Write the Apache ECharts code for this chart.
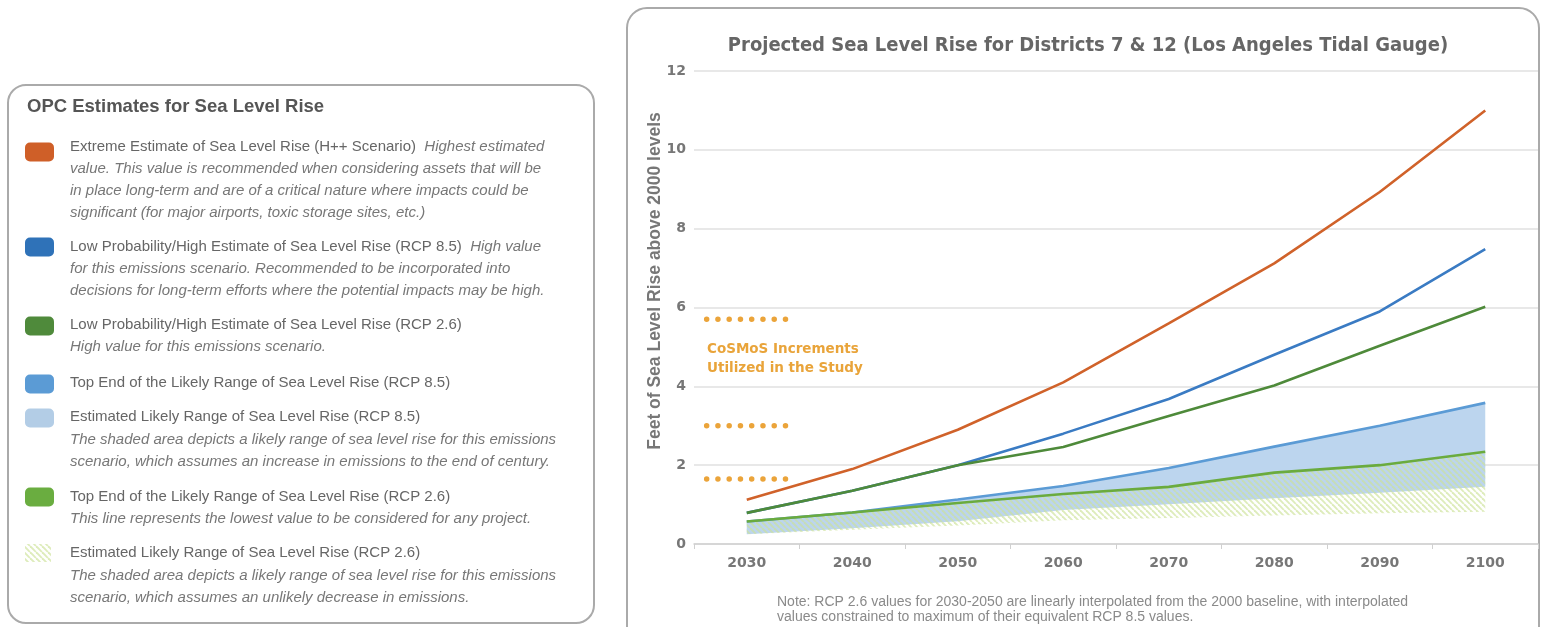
<!DOCTYPE html>
<html>
<head>
<meta charset="utf-8">
<script src="https://cdn.jsdelivr.net/npm/echarts@6/dist/echarts.min.js"></script>
<style>
html,body{margin:0;padding:0;background:#fff;}
#c{width:1544px;height:627px;}
</style>
</head>
<body>
<div id="c"></div>
<script>
// ---------------- DATA ----------------
var years = ['2030','2040','2050','2060','2070','2080','2090','2100'];
var yTicks = [0, 2, 4, 6, 8, 10, 12];
var hppExtreme   = [1.12, 1.90, 2.90, 4.10, 5.60, 7.12, 8.93, 11.0];  // H++
var rcp85High    = [0.79, 1.35, 2.00, 2.80, 3.68, 4.80, 5.90, 7.48];  // RCP 8.5 low prob / high
var rcp26High    = [0.79, 1.35, 2.00, 2.46, 3.25, 4.02, 5.03, 6.02];  // RCP 2.6 low prob / high
var rcp85LikelyTop = [0.57, 0.80, 1.13, 1.47, 1.93, 2.47, 3.00, 3.58];
var rcp85LikelyLow = [0.25, 0.40, 0.58, 0.86, 1.01, 1.16, 1.30, 1.45];
var rcp26LikelyTop = [0.57, 0.80, 1.04, 1.27, 1.45, 1.81, 2.00, 2.34];
var rcp26LikelyLow = [0.25, 0.36, 0.47, 0.60, 0.66, 0.72, 0.78, 0.82];
var cosmosLevels = [5.7, 3.0, 1.65];
var cosmosSpan = [2026.2, 2033.8];

var legendItems = [
  {swatch:'#cf5f28', lines:[['Extreme Estimate of Sea Level Rise (H++ Scenario)  ','Highest estimated'],['','value. This value is recommended when considering assets that will be'],['','in place long-term and are of a critical nature where impacts could be'],['','significant (for major airports, toxic storage sites, etc.)']]},
  {swatch:'#2f72b8', lines:[['Low Probability/High Estimate of Sea Level Rise (RCP 8.5)  ','High value'],['','for this emissions scenario. Recommended to be incorporated into'],['','decisions for long-term efforts where the potential impacts may be high.']]},
  {swatch:'#4f8a3b', lines:[['Low Probability/High Estimate of Sea Level Rise (RCP 2.6)',''],['','High value for this emissions scenario.']]},
  {swatch:'#5b9bd5', lines:[['Top End of the Likely Range of Sea Level Rise (RCP 8.5)','']]},
  {swatch:'#b3cde6', lines:[['Estimated Likely Range of Sea Level Rise (RCP 8.5)',''],['','The shaded area depicts a likely range of sea level rise for this emissions'],['','scenario, which assumes an increase in emissions to the end of century.']]},
  {swatch:'#6aad40', lines:[['Top End of the Likely Range of Sea Level Rise (RCP 2.6)',''],['','This line represents the lowest value to be considered for any project.']]},
  {swatch:'hatch', lines:[['Estimated Likely Range of Sea Level Rise (RCP 2.6)',''],['','The shaded area depicts a likely range of sea level rise for this emissions'],['','scenario, which assumes an unlikely decrease in emissions.']]}
];
var legendLineY = [[147,169,191,213],[247,269,291],[325,347],[383],[417,440,462],[497,519],[553,576,598]];
var legendSwatchY = [152,247,326,384,418,497,553];

// ---------------- PATTERN ----------------
function makeHatch(){
  var cv = document.createElement('canvas');
  cv.width = 6; cv.height = 6;
  var ctx = cv.getContext('2d');
  ctx.strokeStyle = 'rgba(205,226,150,0.65)';
  ctx.lineWidth = 1.9;
  [-6,0,6].forEach(function(o){
    ctx.beginPath(); ctx.moveTo(o,0); ctx.lineTo(o+6,6); ctx.stroke();
  });
  return cv;
}
var hatchCanvas = makeHatch();
var hatch = {image: hatchCanvas, repeat: 'repeat'};

function diff(a,b){ return a.map(function(v,i){ return +(v-b[i]).toFixed(3); }); }

var chart = echarts.init(document.getElementById('c'), null, {renderer:'canvas'});

var graphics = [];
// panels
graphics.push({type:'rect', shape:{x:8,y:85,width:586,height:538,r:18}, style:{fill:'none',stroke:'#aaaaaa',lineWidth:2}, z:0});
graphics.push({type:'rect', shape:{x:627,y:8,width:912,height:660,r:20}, style:{fill:'none',stroke:'#aaaaaa',lineWidth:2}, z:0});
graphics.push({type:'text', x:27, y:107, style:{text:'OPC Estimates for Sea Level Rise', verticalAlign:'middle', font:'bold 18.5px "Liberation Sans", Arial, sans-serif', fill:'#555'}});

legendItems.forEach(function(it, k){
  var sy = legendSwatchY[k];
  if (it.swatch === 'hatch'){
    graphics.push({type:'rect', shape:{x:25,y:sy-9,width:26,height:18}, style:{fill:hatch}});
  } else {
    graphics.push({type:'rect', shape:{x:25,y:sy-9.5,width:29,height:19,r:5}, style:{fill:it.swatch}});
  }
  it.lines.forEach(function(ln, j){
    var txt = (ln[0] ? '{n|' + ln[0] + '}' : '') + (ln[1] ? '{i|' + ln[1] + '}' : '');
    graphics.push({type:'text', x:70, y:legendLineY[k][j], style:{
      text: txt, verticalAlign:'middle', align:'left',
      rich:{
        n:{font:'15px "Liberation Sans", Arial, sans-serif', fill:'#666'},
        i:{font:'italic 15px "Liberation Sans", Arial, sans-serif', fill:'#777'}
      }}});
  });
});

graphics.push({type:'text', x:655, y:281, rotation:Math.PI/2, style:{text:'Feet of Sea Level Rise above 2000 levels', align:'center', verticalAlign:'middle', font:'bold 17.5px "Liberation Sans", Arial, sans-serif', fill:'#777'}});
graphics.push({type:'text', x:707, y:340, style:{text:'CoSMoS Increments\nUtilized in the Study', font:'bold 13.5px "DejaVu Sans", sans-serif', fill:'#e9a43a', lineHeight:19}});
graphics.push({type:'text', x:777, y:595, style:{text:'Note: RCP 2.6 values for 2030-2050 are linearly interpolated from the 2000 baseline, with interpolated\nvalues constrained to maximum of their equivalent RCP 8.5 values.', font:'14px "Liberation Sans", Arial, sans-serif', fill:'#8a8a8a', lineHeight:15}});

function lineSeries(name, data, color, z){
  return {name:name, type:'line', data:data, symbol:'none', smooth:false, z:z,
    lineStyle:{color:color, width:2.6}, itemStyle:{color:color}};
}

var series = [
  {name:'rcp85base', type:'line', stack:'r85', data:rcp85LikelyLow, symbol:'none', lineStyle:{width:0,opacity:0}, z:1, silent:true},
  {name:'Estimated Likely Range of Sea Level Rise (RCP 8.5)', type:'line', stack:'r85', data:diff(rcp85LikelyTop, rcp85LikelyLow), symbol:'none', lineStyle:{width:0,opacity:0}, areaStyle:{color:'#bcd5ee', opacity:1}, z:1},
  {name:'rcp26base', type:'line', stack:'r26', data:rcp26LikelyLow, symbol:'none', lineStyle:{width:0,opacity:0}, z:2, silent:true},
  {name:'Estimated Likely Range of Sea Level Rise (RCP 2.6)', type:'line', stack:'r26', data:diff(rcp26LikelyTop, rcp26LikelyLow), symbol:'none', lineStyle:{width:0,opacity:0}, areaStyle:{color:hatch, opacity:1}, z:2},
  lineSeries('Top End of the Likely Range of Sea Level Rise (RCP 8.5)', rcp85LikelyTop, '#5b9bd5', 3),
  lineSeries('Top End of the Likely Range of Sea Level Rise (RCP 2.6)', rcp26LikelyTop, '#6aab3e', 4),
  lineSeries('Low Probability/High Estimate of Sea Level Rise (RCP 8.5)', rcp85High, '#3a7bc3', 5),
  lineSeries('Low Probability/High Estimate of Sea Level Rise (RCP 2.6)', rcp26High, '#4e8a3a', 6),
  lineSeries('Extreme Estimate of Sea Level Rise (H++ Scenario)', hppExtreme, '#d0622a', 7)
];
cosmosLevels.forEach(function(lv){
  series.push({name:'CoSMoS', type:'line', xAxisIndex:1, data:[[cosmosSpan[0], lv],[cosmosSpan[1], lv]], symbol:'none', z:8,
    lineStyle:{color:'#eba43a', width:5.5, type:[0.01, 11.25], cap:'round'}});
});

chart.setOption({
  animation:false,
  backgroundColor:'#ffffff',
  title:{text:'Projected Sea Level Rise for Districts 7 & 12 (Los Angeles Tidal Gauge)', left:1083, top:31, textAlign:'center',
    textStyle:{fontFamily:'"Liberation Sans Narrow", "DejaVu Sans Condensed", sans-serif', fontWeight:'bold', fontSize:20, color:'#666'}},
  grid:{left:694, right:6, top:71, bottom:83},
  xAxis:[
    {type:'category', data:years, boundaryGap:true,
      axisLine:{lineStyle:{color:'#d0d0d0', width:1.5}},
      axisTick:{show:true, length:5, lineStyle:{color:'#d0d0d0'}},
      axisLabel:{margin:12, fontFamily:'"DejaVu Sans", sans-serif', fontWeight:'bold', fontSize:14, color:'#777'},
      splitLine:{show:false}},
    {type:'value', min:2025, max:2105, show:false}
  ],
  yAxis:{type:'value', min:yTicks[0], max:yTicks[yTicks.length-1], interval:2,
    axisLine:{show:false}, axisTick:{show:false},
    axisLabel:{margin:8, fontFamily:'"DejaVu Sans", sans-serif', fontWeight:'bold', fontSize:14, color:'#777'},
    splitLine:{lineStyle:{color:'#e0e0e0', width:1.5}}},
  series:series,
  graphic:graphics
});
</script>
</body>
</html>
